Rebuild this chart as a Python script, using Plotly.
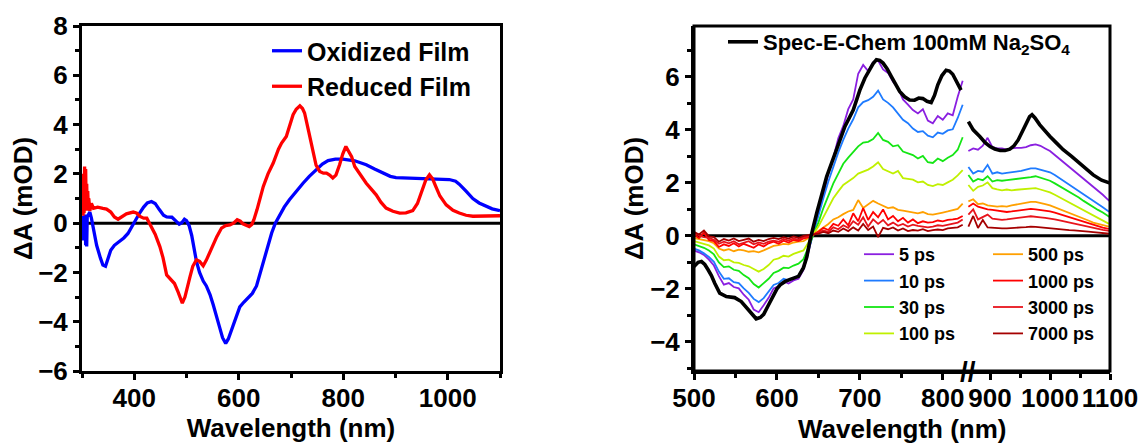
import plotly.graph_objects as go

# ---------------- Left panel data ----------------
ox_wl = [300, 301, 302, 303, 304, 305, 306, 307, 308, 309, 310, 312, 315, 318, 322, 328, 335, 340, 345, 350,
         355, 362, 372, 380, 388, 395, 402, 410, 418, 425, 433, 440, 448, 456, 462, 472, 480, 486, 491, 496,
         500, 505, 510, 515, 519, 525, 532, 538, 545, 551, 557, 563, 569, 575, 580, 585, 590, 596, 602, 610,
         618, 626, 634, 640, 647, 655, 663, 670, 677, 687, 697, 710, 723, 735, 748, 760, 771, 785, 799, 811,
         822, 833, 844, 860, 876, 890, 901, 920, 940, 972, 1003, 1015, 1022, 1035, 1048, 1060, 1073, 1085, 1100]
ox_val = [0.1, -0.7, 0.3, -0.5, 0.2, -0.3, 0.35, -0.9, 0.3, -0.95, 0.25, 0.35, 0.45, 0.2, -0.3, -0.9, -1.4, -1.7, -1.75, -1.45,
          -1.1, -0.9, -0.75, -0.6, -0.42, -0.15, 0.1, 0.4, 0.65, 0.82, 0.88, 0.8, 0.55, 0.32, 0.25, 0.24, 0.08, -0.04, 0.02, 0.16,
          0.1, -0.1, -0.5, -1.05, -1.55, -2.0, -2.35, -2.55, -2.9, -3.3, -3.7, -4.2, -4.65, -4.88, -4.7, -4.4, -4.1, -3.7, -3.4, -3.2,
          -3.04, -2.85, -2.55, -2.1, -1.6, -1.0, -0.4, 0.0, 0.27, 0.65, 0.95, 1.3, 1.62, 1.9, 2.17, 2.4, 2.54, 2.6, 2.6, 2.58,
          2.53, 2.45, 2.37, 2.2, 2.03, 1.9, 1.85, 1.84, 1.83, 1.8, 1.77, 1.7, 1.58, 1.3, 1.0, 0.82, 0.68, 0.58, 0.51]

red_wl = [300, 301, 302, 303, 304, 305, 306, 307, 308, 309, 310, 311, 312, 313, 315, 318, 322, 330, 340, 347,
          355, 362, 369, 375, 385, 398, 405, 411, 418, 424, 433, 440, 449, 455, 462, 470, 477, 484, 492, 497,
          502, 507, 512, 519, 525, 532, 538, 545, 551, 558, 567, 575, 583, 590, 597, 603, 608, 614, 620, 625,
          629, 635, 641, 647, 656, 666, 676, 682, 691, 698, 704, 710, 717, 722, 726, 734, 742, 748, 755, 762,
          768, 774, 780, 786, 793, 799, 805, 810, 816, 822, 828, 836, 844, 852, 863, 872, 882, 895, 908, 920,
          933, 942, 952, 958, 965, 971, 977, 985, 997, 1010, 1022, 1035, 1048, 1070, 1100]
red_val = [0.4, 2.0, 0.3, 1.8, 0.4, 2.3, 0.5, 2.2, 0.6, 1.6, 0.5, 1.3, 0.6, 1.0, 0.5, 0.8, 0.6, 0.65, 0.6, 0.57,
           0.45, 0.25, 0.16, 0.25, 0.38, 0.45, 0.4, 0.27, 0.2, 0.2, -0.14, -0.45, -0.95, -1.4, -2.1, -2.3, -2.45, -2.8, -3.25, -3.0,
           -2.5, -2.15, -1.75, -1.49, -1.55, -1.73, -1.5, -1.15, -0.88, -0.55, -0.2, -0.1, -0.07, 0.0, 0.14, 0.08, -0.03, -0.1, -0.14, -0.05,
           0.14, 0.55, 1.0, 1.49, 2.0, 2.44, 3.0, 3.25, 3.52, 4.0, 4.4, 4.62, 4.76, 4.65, 4.47, 3.7, 2.84, 2.35, 2.1, 2.03,
           2.03, 1.95, 1.83, 1.95, 2.37, 2.8, 3.11, 2.95, 2.7, 2.3, 2.1, 1.85, 1.62, 1.42, 1.15, 0.85, 0.61, 0.48, 0.41, 0.42,
           0.51, 0.8, 1.35, 1.75, 1.96, 1.8, 1.49, 1.1, 0.74, 0.52, 0.41, 0.32, 0.28, 0.28, 0.3]

# ---------------- Right panel data ----------------
sec_wl_a = [500, 505, 509, 513, 517, 521, 525, 531, 539, 549, 557, 565, 570, 575, 580, 584, 590, 594, 600, 604,
            610, 616, 622, 626, 632, 636, 640, 644, 648, 654, 660, 666, 672, 682, 692, 700, 706, 712, 716, 720,
            724, 728, 733, 738, 743, 748, 754, 760, 766, 771, 776, 781, 786, 790, 794, 799, 804, 808, 812, 816,
            820, 822]
sec_val_a = [-1.16, -1.0, -0.97, -1.08, -1.28, -1.5, -1.79, -2.16, -2.29, -2.33, -2.48, -2.79, -2.98, -3.13, -3.08, -2.96, -2.6, -2.35, -2.0, -1.85,
             -1.72, -1.64, -1.58, -1.53, -1.2, -0.8, -0.15, 0.4, 0.86, 1.55, 2.24, 2.75, 3.25, 4.13, 4.75, 5.5, 5.95, 6.3, 6.5, 6.65,
             6.62, 6.52, 6.3, 6.01, 5.72, 5.45, 5.25, 5.13, 5.12, 5.2, 5.18, 5.08, 5.03, 5.3, 5.7, 6.05, 6.25, 6.22, 6.1, 5.85,
             5.6, 5.5]
sec_wl_b = [864, 872, 883, 892, 900, 908, 917, 925, 933, 940, 947, 954, 961, 966, 970, 975, 983, 992, 1000, 1011,
            1022, 1036, 1050, 1061, 1072, 1086, 1100]
sec_val_b = [4.31, 4.0, 3.75, 3.52, 3.37, 3.28, 3.22, 3.22, 3.27, 3.4, 3.62, 3.95, 4.31, 4.5, 4.57, 4.45, 4.19, 3.95, 3.75, 3.5,
             3.25, 3.0, 2.74, 2.52, 2.3, 2.1, 1.99]

ta_wl_a = [500, 506, 512, 518, 524, 530, 536, 542, 548, 554, 560, 566, 572, 578, 584, 590, 596, 602, 608, 614,
           620, 626, 632, 638, 644, 650, 656, 662, 668, 674, 680, 686, 692, 698, 704, 710, 716, 722, 728, 734,
           740, 746, 752, 758, 764, 770, 776, 782, 788, 794, 800, 806, 812, 818, 824]
ta_wl_b = [864, 872, 880, 888, 896, 904, 912, 920, 928, 936, 944, 952, 960, 968, 976, 984, 992, 1000, 1008, 1016,
           1024, 1032, 1040, 1048, 1056, 1064, 1072, 1080, 1088, 1096, 1100]

delays = ["5 ps", "10 ps", "30 ps", "100 ps", "500 ps", "1000 ps", "3000 ps", "7000 ps"]
colors = ["#8a1fe0", "#1e7bff", "#14e614", "#c0f000", "#ffa000", "#ff0000", "#e8141c", "#a50000"]

ta_5_a = [-0.55, -0.62, -0.72, -0.9, -1.12, -1.52, -1.84, -1.78, -1.93, -1.98, -2.22, -2.41, -2.78, -2.88, -2.62, -2.34, -1.98, -1.9, -1.72, -1.8,
          -1.68, -1.62, -1.28, -0.62, 0.18, 0.85, 1.55, 2.36, 2.95, 3.68, 4.15, 4.78, 5.15, 6.12, 6.45, 6.22, 6.55, 6.62, 6.28, 6.15,
          5.82, 5.58, 5.15, 4.95, 4.75, 4.62, 4.78, 4.35, 4.25, 4.52, 4.38, 4.62, 4.55, 5.25, 5.85]
ta_10_a = [-0.48, -0.55, -0.66, -0.8, -0.98, -1.35, -1.62, -1.6, -1.75, -1.78, -1.98, -2.15, -2.38, -2.5, -2.35, -2.1, -1.85, -1.78, -1.62, -1.68,
           -1.58, -1.5, -1.22, -0.55, 0.15, 0.72, 1.42, 2.05, 2.62, 3.15, 3.62, 4.05, 4.4, 4.85, 5.05, 5.12, 5.25, 5.48, 5.15, 5.02,
           4.85, 4.62, 4.38, 4.25, 4.05, 3.92, 3.95, 3.78, 3.72, 3.9, 3.85, 3.98, 4.02, 4.45, 4.95]
ta_30_a = [-0.32, -0.38, -0.45, -0.55, -0.7, -1.0, -1.18, -1.15, -1.28, -1.32, -1.48, -1.6, -1.82, -1.95, -1.8, -1.62, -1.4, -1.32, -1.2, -1.22,
           -1.12, -1.05, -0.88, -0.42, 0.1, 0.5, 1.05, 1.5, 1.98, 2.35, 2.72, 2.95, 3.15, 3.38, 3.52, 3.55, 3.65, 3.88, 3.62, 3.55,
           3.38, 3.42, 3.18, 3.12, 3.05, 2.92, 3.02, 2.78, 2.75, 2.92, 2.82, 2.95, 3.05, 3.25, 3.72]
ta_100_a = [-0.2, -0.25, -0.3, -0.36, -0.48, -0.78, -0.92, -0.9, -1.0, -1.02, -1.1, -1.15, -1.25, -1.35, -1.25, -1.1, -0.9, -0.85, -0.75, -0.78,
            -0.68, -0.62, -0.55, -0.25, 0.08, 0.35, 0.72, 1.05, 1.42, 1.68, 1.92, 2.05, 2.18, 2.35, 2.42, 2.5, 2.62, 2.78, 2.52, 2.42,
            2.35, 2.45, 2.18, 2.15, 2.12, 2.02, 2.05, 1.92, 1.88, 1.95, 1.92, 2.02, 2.12, 2.28, 2.48]
ta_500_a = [-0.08, -0.12, -0.15, -0.2, -0.28, -0.48, -0.55, -0.5, -0.58, -0.52, -0.55, -0.6, -0.58, -0.62, -0.55, -0.48, -0.38, -0.35, -0.3, -0.32,
            -0.25, -0.22, -0.2, -0.08, 0.05, 0.2, 0.32, 0.45, 0.62, 0.7, 0.82, 0.92, 0.98, 1.35, 1.05, 1.2, 1.32, 1.22, 1.15, 1.05,
            1.08, 0.98, 0.95, 0.92, 0.88, 0.85, 0.9, 0.82, 0.8, 0.85, 0.88, 0.92, 0.98, 1.02, 1.22]
ta_1000_a = [0.05, -0.08, 0.12, -0.15, -0.2, -0.42, -0.32, -0.38, -0.28, -0.4, -0.3, -0.38, -0.45, -0.32, -0.4, -0.28, -0.22, -0.3, -0.18, -0.25,
             -0.15, -0.2, -0.1, -0.05, 0.05, 0.15, 0.3, 0.22, 0.45, 0.38, 0.62, 0.4, 0.85, 0.55, 1.05, 0.6, 0.9, 0.7, 1.0, 0.62,
             0.75, 0.55, 0.68, 0.5, 0.62, 0.48, 0.55, 0.5, 0.52, 0.58, 0.55, 0.6, 0.62, 0.65, 0.75]
ta_3000_a = [0.1, 0.02, -0.05, -0.08, -0.15, -0.3, -0.22, -0.28, -0.2, -0.32, -0.25, -0.2, -0.32, -0.25, -0.3, -0.22, -0.18, -0.22, -0.12, -0.18,
             -0.1, -0.15, -0.05, -0.02, 0.05, 0.12, 0.2, 0.15, 0.32, 0.25, 0.4, 0.3, 0.55, 0.42, 0.7, 0.35, 0.62, 0.45, 0.6, 0.4,
             0.5, 0.38, 0.45, 0.35, 0.42, 0.38, 0.36, 0.32, 0.35, 0.4, 0.38, 0.42, 0.45, 0.5, 0.62]
ta_7000_a = [0.15, 0.05, 0.2, -0.02, -0.05, -0.22, -0.12, -0.18, -0.1, -0.2, -0.15, -0.1, -0.22, -0.15, -0.2, -0.12, -0.08, -0.12, -0.05, -0.1,
             -0.02, -0.08, 0.0, 0.02, 0.05, 0.08, 0.15, 0.1, 0.2, 0.15, 0.28, 0.18, 0.32, 0.2, 0.45, 0.22, 0.35, -0.05, 0.3, 0.25,
             0.32, 0.2, 0.28, 0.18, 0.22, 0.2, 0.25, 0.18, 0.22, 0.24, 0.22, 0.28, 0.3, 0.32, 0.42]

ta_5_b = [3.2, 3.3, 3.25, 3.4, 3.7, 3.35, 3.3, 3.3, 3.25, 3.3, 3.32, 3.32, 3.35, 3.42, 3.45, 3.4, 3.3, 3.2, 3.05, 2.9,
          2.75, 2.6, 2.45, 2.3, 2.15, 2.02, 1.85, 1.7, 1.55, 1.38, 1.3]
ta_10_b = [2.6, 2.35, 2.45, 2.42, 2.68, 2.35, 2.4, 2.35, 2.38, 2.4, 2.42, 2.45, 2.5, 2.55, 2.55, 2.5, 2.45, 2.4, 2.3, 2.18,
           2.05, 1.95, 1.82, 1.7, 1.58, 1.45, 1.32, 1.2, 1.08, 0.95, 0.9]
ta_30_b = [2.3, 2.05, 2.15, 2.1, 2.25, 2.05, 2.1, 2.08, 2.1, 2.12, 2.15, 2.18, 2.2, 2.22, 2.25, 2.2, 2.15, 2.08, 1.98, 1.88,
           1.78, 1.68, 1.55, 1.45, 1.32, 1.2, 1.08, 0.98, 0.88, 0.75, 0.7]
ta_100_b = [1.92, 1.7, 1.85, 1.9, 2.02, 1.8, 1.75, 1.72, 1.75, 1.72, 1.74, 1.76, 1.78, 1.8, 1.8, 1.75, 1.7, 1.64, 1.55, 1.45,
            1.38, 1.28, 1.18, 1.08, 0.98, 0.88, 0.78, 0.68, 0.58, 0.48, 0.45]
ta_500_b = [1.3, 1.38, 1.2, 1.22, 1.15, 1.12, 1.1, 1.12, 1.1, 1.15, 1.18, 1.22, 1.25, 1.28, 1.28, 1.25, 1.2, 1.15, 1.08, 1.0,
            0.95, 0.88, 0.8, 0.72, 0.65, 0.58, 0.5, 0.45, 0.4, 0.36, 0.34]
ta_1000_b = [1.1, 1.22, 1.1, 1.05, 1.0, 0.98, 0.95, 0.92, 0.9, 0.92, 0.95, 0.98, 1.0, 1.02, 1.0, 0.98, 0.95, 0.92, 0.88, 0.82,
             0.76, 0.7, 0.64, 0.58, 0.52, 0.46, 0.4, 0.35, 0.31, 0.27, 0.26]
ta_3000_b = [0.8, 1.0, 0.62, 0.7, 0.8, 0.65, 0.62, 0.6, 0.62, 0.65, 0.68, 0.7, 0.72, 0.74, 0.73, 0.7, 0.68, 0.66, 0.62, 0.58,
             0.54, 0.5, 0.45, 0.42, 0.38, 0.34, 0.3, 0.26, 0.23, 0.2, 0.18]
ta_7000_b = [0.35, 0.75, 0.3, 0.6, 0.32, 0.3, 0.28, 0.28, 0.28, 0.3, 0.3, 0.32, 0.33, 0.35, 0.34, 0.32, 0.3, 0.28, 0.27, 0.26,
             0.24, 0.22, 0.21, 0.2, 0.18, 0.16, 0.14, 0.12, 0.1, 0.09, 0.08]

ta_seg_a = [ta_5_a, ta_10_a, ta_30_a, ta_100_a, ta_500_a, ta_1000_a, ta_3000_a, ta_7000_a]
ta_seg_b = [ta_5_b, ta_10_b, ta_30_b, ta_100_b, ta_500_b, ta_1000_b, ta_3000_b, ta_7000_b]

# ---------------- Figure ----------------
OFF = 8                      # page body margin of the html
W, H = 1146 - OFF, 445 - OFF
FONT = "Liberation Sans, Arial, sans-serif"

def px_x(p):
    return (p - OFF) / W

def px_y(p):
    return 1 - (p - OFF) / H

L_X0, L_X1 = 82, 500
R_X0, R_BRK, R_X1 = 694, 966, 1110
Y_TOP, Y_BOT = 26, 371

fig = go.Figure()

fig.add_trace(go.Scatter(x=ox_wl, y=ox_val, mode="lines", name="Oxidized Film",
                         line=dict(color="#0000ff", width=3.3), xaxis="x", yaxis="y", legend="legend"))
fig.add_trace(go.Scatter(x=red_wl, y=red_val, mode="lines", name="Reduced Film",
                         line=dict(color="#ff0000", width=3.3), xaxis="x", yaxis="y", legend="legend"))

for i, (name, col) in enumerate(zip(delays, colors)):
    leg = "legend3" if i < 4 else "legend4"
    fig.add_trace(go.Scatter(x=ta_wl_a, y=ta_seg_a[i], mode="lines", name=name,
                             line=dict(color=col, width=1.8), xaxis="x2", yaxis="y2", legend=leg))
    fig.add_trace(go.Scatter(x=ta_wl_b, y=ta_seg_b[i], mode="lines", name=name, showlegend=False,
                             line=dict(color=col, width=1.8), xaxis="x3", yaxis="y2"))

fig.add_trace(go.Scatter(x=sec_wl_a, y=sec_val_a, mode="lines", name="Spec-E-Chem 100mM Na<sub>2</sub>SO<sub>4</sub>",
                         line=dict(color="black", width=3.6), xaxis="x2", yaxis="y2", legend="legend2"))
fig.add_trace(go.Scatter(x=sec_wl_b, y=sec_val_b, mode="lines", showlegend=False,
                         line=dict(color="black", width=3.6), xaxis="x3", yaxis="y2"))

tickfont = dict(family=FONT, size=26, color="black", weight="bold")
titlefont = dict(family=FONT, size=26, color="black", weight="bold")
axcommon = dict(showgrid=False, zeroline=False, ticks="outside", ticklen=6, tickwidth=2.5,
                tickcolor="black", tickfont=tickfont, automargin=False, linecolor="black", linewidth=3)
minor_x = lambda d: dict(dtick=d, tick0=0, ticks="outside", ticklen=4, tickwidth=2.5, tickcolor="black")

fig.update_layout(
    width=W, height=H, margin=dict(l=0, r=0, t=0, b=0),
    paper_bgcolor="white", plot_bgcolor="white",
    font=dict(family=FONT, color="black", weight="bold"),
    xaxis=dict(domain=[px_x(L_X0), px_x(L_X1)], range=[300, 1100], dtick=200, tick0=0,
               showline=True, mirror=True, anchor="y", minor=minor_x(100), ticklabelstandoff=-4,
               title=dict(text="Wavelength (nm)", font=titlefont, standoff=3), **axcommon),
    yaxis=dict(domain=[px_y(Y_BOT), px_y(Y_TOP)], range=[-6, 8], dtick=2, tick0=0,
               showline=True, mirror=True, anchor="x", minor=minor_x(1),
               title=dict(text="ΔA (mOD)", font=titlefont, standoff=2), **axcommon),
    xaxis2=dict(domain=[px_x(R_X0), px_x(R_BRK)], range=[500, 828], dtick=100, tick0=0,
                showline=True, anchor="y2", minor=minor_x(50), ticklabelstandoff=-4, **axcommon),
    xaxis3=dict(domain=[px_x(R_BRK), px_x(R_X1)], range=[860, 1100], dtick=100, tick0=0,
                showline=True, anchor="y2", minor=minor_x(50), ticklabelstandoff=-4, **axcommon),
    yaxis2=dict(domain=[px_y(Y_BOT), px_y(Y_TOP)], range=[-5.1, 7.92], dtick=2, tick0=0,
                showline=True, anchor="x2", minor=minor_x(1),
                title=dict(text="ΔA (mOD)", font=titlefont, standoff=0), **axcommon),
    legend=dict(x=px_x(267), y=px_y(28), xanchor="left", yanchor="top", bgcolor="rgba(0,0,0,0)",
                font=dict(family=FONT, size=25, color="black", weight="bold")),
    legend2=dict(x=px_x(723), y=px_y(21), xanchor="left", yanchor="top", bgcolor="rgba(0,0,0,0)",
                 font=dict(family=FONT, size=22, color="black", weight="bold")),
    legend3=dict(x=px_x(859), y=px_y(236), xanchor="left", yanchor="top", bgcolor="rgba(0,0,0,0)",
                 font=dict(family=FONT, size=18, color="black", weight="bold")),
    legend4=dict(x=px_x(988), y=px_y(236), xanchor="left", yanchor="top", bgcolor="rgba(0,0,0,0)",
                 font=dict(family=FONT, size=18, color="black", weight="bold")),
)

# zero lines
fig.add_shape(type="line", xref="x", yref="y", x0=300, x1=1100, y0=0, y1=0,
              line=dict(color="black", width=3), layer="below")
fig.add_shape(type="line", xref="paper", yref="y2", x0=px_x(R_X0), x1=px_x(R_X1), y0=0, y1=0,
              line=dict(color="black", width=3), layer="below")
# right panel frame
fig.add_shape(type="rect", xref="paper", yref="paper", x0=px_x(R_X0), x1=px_x(R_X1),
              y0=px_y(Y_BOT), y1=px_y(Y_TOP), line=dict(color="black", width=3))

# axis break mark and right x title
fig.add_annotation(text="//", xref="paper", yref="paper", x=px_x(968), y=px_y(Y_BOT),
                   showarrow=False, font=dict(family=FONT, size=28, color="black", weight="bold"),
                   xanchor="center", yanchor="middle")
fig.add_annotation(text="Wavelength (nm)", xref="paper", yref="paper", x=px_x(902), y=px_y(429),
                   showarrow=False, font=titlefont, xanchor="center", yanchor="middle")

fig.write_html("out.html")
